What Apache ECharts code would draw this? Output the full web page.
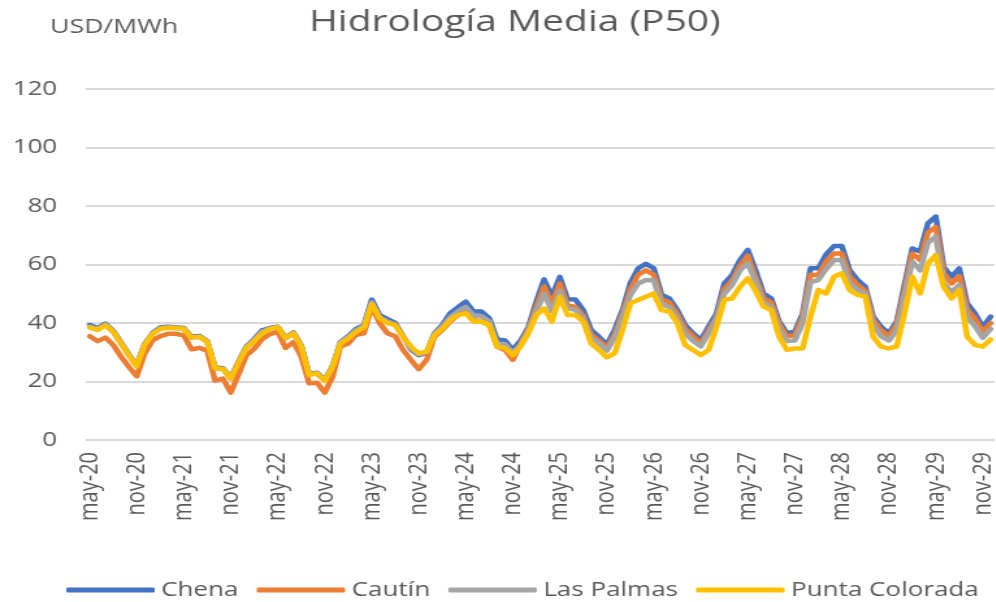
<!DOCTYPE html>
<html>
<head>
<meta charset="utf-8">
<script src="https://cdn.jsdelivr.net/npm/echarts@6/dist/echarts.min.js"></script>
<style>
  html, body { margin: 0; padding: 0; background: #fff; overflow: hidden; }
  /* the reference picture is stretched sideways, so the chart is drawn narrow and scaled */
  #chart { width: 766px; height: 602px; transform: scaleX(1.3); transform-origin: 0 0; }
</style>
</head>
<body>
<div id="chart"></div>
<script>
var meses = ['ene', 'feb', 'mar', 'abr', 'may', 'jun', 'jul', 'ago', 'sep', 'oct', 'nov', 'dic'];
var categorias = [];
for (var k = 0; k < 116; k++) {
  categorias.push(meses[(4 + k) % 12] + '-' + (20 + Math.floor((4 + k) / 12)));
}

var chena = [
  39.3, 38.3, 39.8, 37.3, 33.3, 29.2, 25.5, 32.8, 36.5, 38.5,
  38.7, 38.5, 38.3, 35.3, 35.6, 33.8, 24.8, 24.5, 21.3, 26.8,
  32, 34.5, 37.5, 38.3, 38.7, 35, 36.8, 32.3, 22.6, 23,
  20.5, 25.3, 33.5, 35.5, 38, 39.3, 48, 42.7, 41.3, 40,
  35.5, 31, 29, 29.8, 36.5, 39.3, 43.3, 45.4, 47.3, 43.9,
  43.9, 41.6, 34.4, 34, 30.8, 34, 38.7, 47.3, 54.9, 49,
  55.8, 48.1, 48, 44.4, 37.6, 35.3, 32.5, 37.6, 44.4, 53.6,
  58.7, 60.2, 58.7, 49.6, 48.4, 44.4, 39.3, 36.5, 34.2, 38.7,
  43.3, 53.6, 56.4, 61.5, 65, 58, 50.1, 48.4, 40.5, 36.5,
  37, 43.3, 58.7, 58.7, 63.5, 66.3, 66.3, 58.1, 54.7, 52.4,
  42.2, 38.7, 36.5, 40.5, 53, 65.5, 64.4, 74.1, 76.4, 59.2,
  55.8, 58.7, 46.7, 43.3, 38.7, 42.2
];
var cautin = [
  35.5, 33.8, 35, 32.5, 28.5, 25, 21.8, 29.5, 34, 35.5,
  36.3, 36.3, 35.8, 31, 31.5, 30.5, 20.3, 21, 16.2, 22.5,
  29, 31.2, 34.5, 36.2, 37, 31.5, 33.5, 28.5, 19.4, 19.6,
  16.2, 21.6, 32, 33, 36, 36.5, 45.5, 40, 36.5, 35.5,
  30.8, 27.4, 24.2, 27.4, 35.3, 37.6, 40.5, 42.7, 44, 41,
  40.5, 39.3, 31.9, 30.8, 27.4, 33, 38, 45.5, 52.5, 46.5,
  53.5, 46, 45.5, 42.5, 36, 34, 31.5, 36, 43, 51.5,
  56.5, 58, 56.5, 48, 47, 43, 38, 35.5, 33, 37.5,
  42, 51.5, 54.5, 59.5, 63, 55.5, 48.5, 47, 39.5, 35.5,
  35.8, 42, 56.5, 56.4, 61, 63.8, 63.8, 56, 53, 51,
  41, 37.5, 35.5, 39.5, 51, 63.8, 61.5, 71, 72.8, 57,
  53.5, 56, 44.5, 41.5, 37, 40
];
var lasPalmas = [
  38.8, 38, 39.5, 37, 33, 29, 25.3, 32.5, 36.3, 38.2,
  38.5, 38.3, 38, 35, 35.3, 33.6, 24.5, 24.3, 21, 26.5,
  31.8, 34.2, 37, 38, 38.6, 34.8, 36.5, 32, 22.5, 22.8,
  20.3, 25, 33.3, 35.2, 37.5, 39, 47, 42, 40.5, 39.5,
  35.3, 31.5, 29.3, 30, 36.2, 38.7, 42, 44, 45.5, 42.5,
  42.3, 40.5, 33, 32.8, 29.8, 32.5, 37.5, 44, 50, 44,
  51, 45, 44.5, 41.5, 35, 33, 30.5, 35, 42, 49.5,
  53.5, 54.7, 54.5, 46.5, 45.5, 41.5, 36.5, 34, 32, 36.5,
  41.5, 50, 53, 58, 60.5, 54, 47, 45.5, 38, 33.8,
  34, 40, 54, 54.7, 58.5, 61.5, 61.5, 53.5, 51.5, 50,
  39.5, 35.5, 34, 37.5, 49, 61, 58, 67.5, 69.5, 53.6,
  50.5, 53, 42, 39, 35, 38
];
var puntaColorada = [
  38.4, 37.6, 39.2, 37, 33, 29, 25.2, 32.5, 36.2, 38,
  38.4, 38.3, 38, 35, 35.3, 33.6, 24.5, 24.3, 21, 26.5,
  31.5, 33.8, 36.5, 38, 38.6, 34.8, 36.5, 32, 22.2, 22.8,
  20.2, 25, 33, 34.8, 37, 38.4, 46.5, 41.6, 40, 39.3,
  35.3, 31.9, 29.6, 30.2, 35.9, 38, 41, 42.7, 43.3, 40.5,
  40.5, 39.3, 31.9, 31.4, 29, 32, 36.5, 42.7, 45, 40.5,
  49, 42.7, 42.7, 40.5, 33, 30.8, 28.3, 29.6, 37.6, 46.7,
  47.9, 49, 50.1, 44.4, 43.9, 39.9, 32.5, 30.8, 29, 30.8,
  38.7, 47.9, 48.4, 52.4, 55.3, 51, 45.6, 44.4, 35.3, 30.8,
  31.3, 31.3, 42.2, 51.3, 50.1, 55.8, 57, 51.3, 49.6, 49,
  35.3, 31.9, 31.3, 31.9, 43.3, 55.8, 50.1, 60.4, 63.2, 52.4,
  48.4, 51.3, 35.3, 32.5, 31.9, 34.4
];

var nombres = ['Chena', 'Cautín', 'Las Palmas', 'Punta Colorada'];
var colores = ['#4472C4', '#ED7D31', '#A5A5A5', '#FFC000'];
var valores = [chena, cautin, lasPalmas, puntaColorada];

var fuente = '"Open Sans", "Noto Sans", sans-serif';
var gris = '#595959';

var chart = echarts.init(document.getElementById('chart'));

var option = {
  animation: false,
  graphic: [
    {
      type: 'text',
      x: 396, y: 22,
      style: {
        text: 'Hidrología Media (P50)',
        font: 'normal 30px ' + fuente,
        fill: gris,
        align: 'center', textAlign: 'center',
        verticalAlign: 'middle', textVerticalAlign: 'middle'
      }
    },
    {
      type: 'text',
      x: 38.5, y: 27.5,
      style: {
        text: 'USD/MWh',
        font: 'normal 20.5px ' + fuente,
        fill: gris,
        align: 'left', textAlign: 'left',
        verticalAlign: 'middle', textVerticalAlign: 'middle'
      }
    }
  ],
  legend: {
    data: nombres.map(function (n) { return { name: n, icon: 'roundRect' }; }),
    left: 51,
    top: 580,
    itemWidth: 68,
    itemHeight: 5,
    itemGap: 14,
    padding: 0,
    textStyle: { fontSize: 20, color: gris, fontFamily: fuente }
  },
  grid: {
    left: 66,
    top: 89,
    width: 702,
    height: 351,
    containLabel: false
  },
  xAxis: {
    type: 'category',
    data: categorias,
    boundaryGap: true,
    axisLine: { show: false },
    axisTick: { show: false },
    axisLabel: {
      interval: 5,
      rotate: 90,
      margin: 12,
      fontSize: 20,
      color: gris,
      fontFamily: fuente
    }
  },
  yAxis: {
    type: 'value',
    min: 0,
    max: 120,
    interval: 20,
    axisLine: { show: false },
    axisTick: { show: false },
    axisLabel: { fontSize: 20, color: gris, fontFamily: fuente, margin: 22 },
    splitLine: { lineStyle: { color: '#d9d9d9', width: 2 } }
  },
  series: nombres.map(function (n, i) {
    return {
      name: n,
      type: 'line',
      data: valores[i],
      symbol: 'none',
      color: colores[i],
      lineStyle: { width: 4.5, color: colores[i], join: 'round', cap: 'round' }
    };
  })
};

chart.setOption(option);
</script>
</body>
</html>
